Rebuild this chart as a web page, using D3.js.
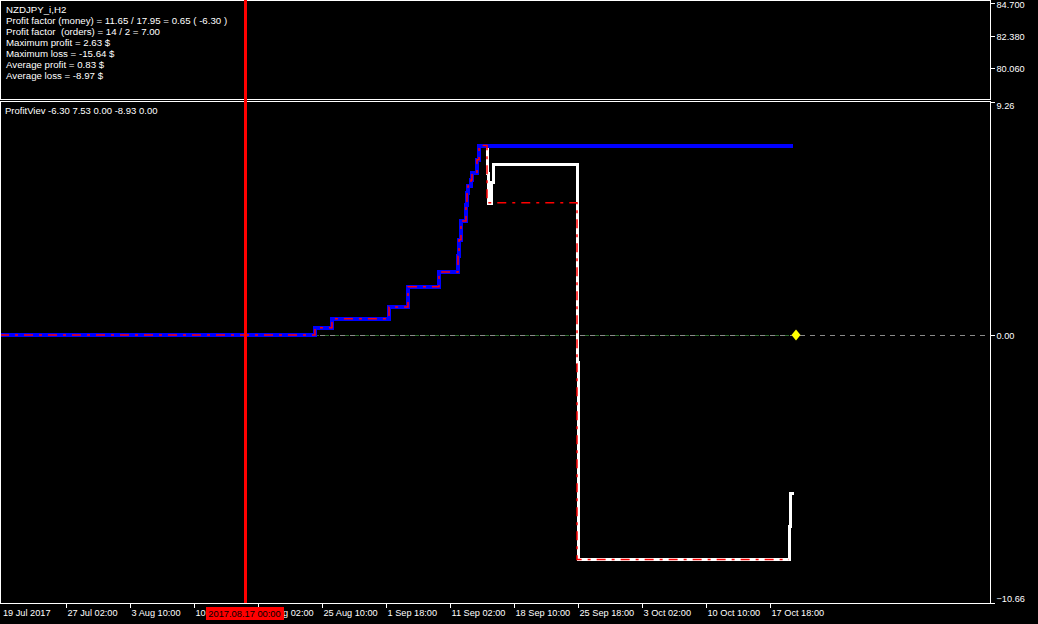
<!DOCTYPE html>
<html><head><meta charset="utf-8">
<script src="https://cdn.jsdelivr.net/npm/d3@7"></script>
<style>html,body{margin:0;padding:0;background:#000;overflow:hidden}svg{display:block}</style>
</head><body><svg id="c" width="1038" height="624"></svg>
<script>
// ---------------- data ----------------
const infoLines = [
  "NZDJPY_i,H2",
  "Profit factor (money) = 11.65 / 17.95 = 0.65 ( -6.30 )",
  "Profit factor  (orders) = 14 / 2 = 7.00",
  "Maximum profit = 2.63 $",
  "Maximum loss = -15.64 $",
  "Average profit = 0.83 $",
  "Average loss = -8.97 $"
];
const indicatorLabel = "ProfitViev -6.30 7.53 0.00 -8.93 0.00";

const windowStart = "2017-07-19 14:00";
const windowEnd = "2017-11-13 02:00";
const firstLabel = "19 Jul 2017";
const tickTimes = ["2017-07-27 02:00","2017-08-03 10:00","2017-08-10 18:00","2017-08-18 02:00",
  "2017-08-25 10:00","2017-09-01 18:00","2017-09-11 02:00","2017-09-18 10:00",
  "2017-09-25 18:00","2017-10-03 02:00","2017-10-10 10:00","2017-10-17 18:00"];
const cursorTime = "2017-08-17 00:00";
const cursorLabel = "2017.08.17 00:00";

const priceTicks = [84.700, 82.380, 80.060];
const priceDomain = [77.84, 84.95];
const profitTicks = [9.26, 0.00, -10.66];
const profitDomain = [-10.66, 9.26];

// rising part shared by the max-equity (blue) and balance (red) lines
const riseTimes = ["2017-07-19 14:00","2017-08-24 20:00","2017-08-28 06:00","2017-09-04 00:00",
  "2017-09-05 14:00","2017-09-08 04:00","2017-09-11 18:00","2017-09-11 20:00","2017-09-12 00:00",
  "2017-09-12 10:00","2017-09-12 12:00","2017-09-12 14:00","2017-09-12 20:00","2017-09-12 22:00",
  "2017-09-13 08:00","2017-09-13 12:00"];
const riseValues = [0,0.28,0.64,1.11,1.91,2.50,3.14,3.78,4.53,5.17,5.65,5.92,6.16,6.44,6.96,7.53];

const maxTailTimes = ["2017-10-19 16:00"];
const maxTailValues = [7.53];

const balanceTailTimes = ["2017-09-14 04:00","2017-09-25 16:00","2017-10-19 08:00"];
const balanceTailValues = [5.25,-8.93,-8.93];

const equityTimes = ["2017-09-13 12:00","2017-09-14 04:00","2017-09-14 06:00","2017-09-14 12:00",
  "2017-09-14 16:00","2017-09-25 16:00","2017-09-25 18:00","2017-10-19 08:00","2017-10-19 10:00",
  "2017-10-19 18:00"];
const equityValues = [7.53,6.40,5.21,6.04,6.76,-1.11,-8.93,-7.63,-6.30,-6.30];

const zeroTimes = ["2017-07-19 14:00","2017-10-19 22:00"];
const zeroValues = [0,0];
const markerTime = "2017-10-19 22:00";
const markerValue = 0;

// ---------------- helpers ----------------
const epoch = Date.UTC(2017, 6, 17); // a Monday
function tradingBar(s) {
  const d = Date.parse(s.replace(" ", "T") + ":00Z");
  const hrs = (d - epoch) / 3600000;
  const days = Math.floor(hrs / 24);
  const w = Math.floor(days / 7), dow = days - w * 7;
  const hod = hrs - days * 24;
  const th = (w * 5 + Math.min(dow, 5)) * 24 + (dow < 5 ? hod : 0);
  return th / 2; // H2 bars
}
const zip = (t, v) => t.map((d, i) => ({t: tradingBar(d), v: v[i]}));

// ---------------- layout ----------------
const W = 1038, H = 624;
const plotR = 990;
const topPanel = {y0: 0, y1: 99};
const botPanel = {y0: 101, y1: 603};
const FONT = "Liberation Sans, Arial, sans-serif";

const svg = d3.select("#c");
svg.append("rect").attr("width", W).attr("height", H).attr("fill", "#000");

const x = d3.scaleLinear().domain([tradingBar(windowStart), tradingBar(windowEnd)]).range([0, plotR]);
const yPrice = d3.scaleLinear().domain(priceDomain).range([topPanel.y1, topPanel.y0]);
const yProfit = d3.scaleLinear().domain(profitDomain).range([botPanel.y1, botPanel.y0 + 1]);

const line = d3.line().x(d => x(d.t)).y(d => yProfit(d.v)).curve(d3.curveStepAfter);

// zero level: grey dashes + green series dashes
const y0px = Math.round(yProfit(0)) + 0.5;
svg.append("line").attr("x1", 0).attr("x2", plotR).attr("y1", y0px).attr("y2", y0px)
  .attr("stroke", "#8a8a8a").attr("stroke-dasharray", "5,5").attr("shape-rendering", "crispEdges");
svg.append("path").datum(zip(zeroTimes, zeroValues))
  .attr("d", d3.line().x(d => x(d.t)).y(() => y0px))
  .attr("fill", "none").attr("stroke", "#2a6a2a").attr("stroke-dasharray", "4,6")
  .attr("stroke-dashoffset", -5).attr("shape-rendering", "crispEdges");

// equity (white)
svg.append("path").datum(zip(equityTimes, equityValues)).attr("d", line)
  .attr("fill", "none").attr("stroke", "#fff").attr("stroke-width", 3).attr("shape-rendering", "crispEdges");
// max (blue)
svg.append("path").datum(zip(riseTimes.concat(maxTailTimes), riseValues.concat(maxTailValues))).attr("d", line)
  .attr("fill", "none").attr("stroke", "#0000ff").attr("stroke-width", 4).attr("shape-rendering", "crispEdges");
// balance (red dash-dot)
svg.append("path").datum(zip(riseTimes.concat(balanceTailTimes), riseValues.concat(balanceTailValues))).attr("d", line)
  .attr("fill", "none").attr("stroke", "#ff0000").attr("stroke-width", 1.5)
  .attr("stroke-dasharray", "9,6,3,6");

// marker diamond
const mx = x(tradingBar(markerTime)), my = yProfit(markerValue);
svg.append("path").attr("transform", `translate(${mx},${my})`)
  .attr("d", "M0,-5.5L4.5,0L0,5.5L-4.5,0Z").attr("fill", "#ffff00");

// panel borders
const g = svg.append("g").attr("stroke", "#fff").attr("fill", "none").attr("shape-rendering", "crispEdges");
g.append("rect").attr("x", 0.5).attr("y", topPanel.y0 + 0.5).attr("width", plotR).attr("height", topPanel.y1 - topPanel.y0);
g.append("rect").attr("x", 0.5).attr("y", botPanel.y0 + 0.5).attr("width", plotR).attr("height", botPanel.y1 - botPanel.y0);

// cursor red vertical line
const cx = Math.round(x(tradingBar(cursorTime))) + 0.5;
svg.append("line").attr("x1", cx).attr("x2", cx).attr("y1", 0).attr("y2", botPanel.y1)
  .attr("stroke", "#ff0000").attr("stroke-width", 3);

// right axes
function rightAxis(scale, ticks, fmt, panel) {
  const ax = svg.append("g").attr("transform", `translate(${plotR + 0.5},0)`)
    .call(d3.axisRight(scale).tickValues(ticks).tickSize(4).tickPadding(2).tickFormat(fmt));
  ax.select(".domain").remove();
  ax.selectAll("line").attr("stroke", "#fff").attr("shape-rendering", "crispEdges");
  ax.selectAll("text").attr("fill", "#fff").attr("font-family", FONT).attr("font-size", 9.2)
    .attr("x", 6).attr("dy", null)
    .attr("y", d => {
      const p = scale(d);
      return Math.max(panel.y0 + 7.5, Math.min(panel.y1 - 2, p + 3.5)) - p;
    });
}
rightAxis(yPrice, priceTicks, d3.format(".3f"), topPanel);
rightAxis(yProfit, profitTicks, d3.format(".2f"), botPanel);

// bottom axis
const xa = svg.append("g").attr("transform", `translate(0,${botPanel.y1 + 0.5})`)
  .call(d3.axisBottom(x).tickValues(tickTimes.map(tradingBar)).tickSize(4)
    .tickFormat((d, i) => d3.utcFormat("%-d %b %H:%M")(new Date(Date.parse(tickTimes[i].replace(" ", "T") + ":00Z")))));
xa.select(".domain").remove();
xa.selectAll("line").attr("stroke", "#fff").attr("shape-rendering", "crispEdges");
xa.selectAll("text").attr("fill", "#fff").attr("font-family", FONT).attr("font-size", 9.2)
  .attr("text-anchor", "start").attr("x", 1).attr("dy", null).attr("y", 12.5);
svg.append("text").attr("x", 3).attr("y", botPanel.y1 + 13).attr("fill", "#fff")
  .attr("font-family", FONT).attr("font-size", 9.2).text(firstLabel);

// cursor time label (drawn over the axis label it hides, as in the original)
const cl = svg.append("g");
cl.append("rect").attr("x", cx - 39.5).attr("y", 607).attr("width", 78).attr("height", 13).attr("fill", "#ff0000");
cl.append("text").attr("x", cx - 1).attr("y", 616.5).attr("text-anchor", "middle").attr("fill", "#000")
  .attr("font-family", FONT).attr("font-size", 9.3).text(cursorLabel);

// info texts
svg.append("g").selectAll("text").data(infoLines).join("text")
  .attr("x", 6).attr("y", (d, i) => 13 + i * 11).attr("fill", "#fff")
  .attr("font-family", FONT).attr("font-size", 9.7).attr("xml:space", "preserve")
  .style("white-space", "pre").text(d => d);
svg.append("text").attr("x", 5).attr("y", botPanel.y0 + 13).attr("fill", "#fff")
  .attr("font-family", FONT).attr("font-size", 9.5).text(indicatorLabel);
</script></body></html>
